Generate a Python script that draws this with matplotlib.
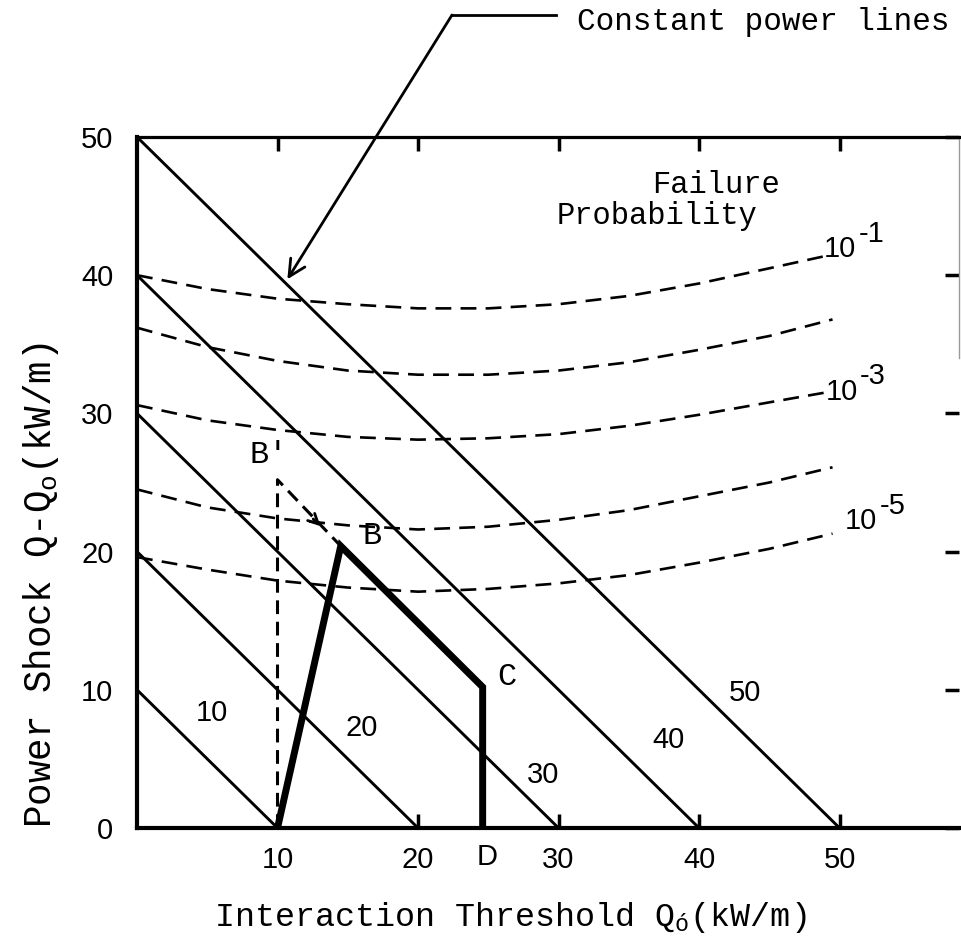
import matplotlib
matplotlib.use("Agg")
import matplotlib.pyplot as plt
from matplotlib.lines import Line2D

# constant power lines: (Q - Qo) + Qo = P
power_levels = [10, 20, 30, 40, 50]
power_label_x = [5.3, 16.0, 28.9, 37.8, 43.3]
power_label_y = [8.3, 7.2, 3.8, 6.4, 9.8]

# failure probability curves
fp_x = [0, 5, 10, 15, 20, 25, 30, 35, 40, 45, 49.5]
fp_1e1 = [40.0, 39.0, 38.3, 37.9, 37.6, 37.6, 37.9, 38.5, 39.4, 40.5, 41.5]
fp_1e2 = [36.2, 34.8, 33.8, 33.1, 32.8, 32.8, 33.1, 33.7, 34.6, 35.6, 36.8]
fp_1e3 = [30.6, 29.5, 28.8, 28.3, 28.1, 28.2, 28.5, 29.1, 29.9, 30.8, 31.6]
fp_1e4 = [24.5, 23.2, 22.4, 21.9, 21.6, 21.8, 22.3, 23.0, 24.0, 25.0, 26.1]
fp_1e5 = [19.6, 18.7, 17.9, 17.4, 17.1, 17.3, 17.7, 18.3, 19.2, 20.2, 21.3]
fp_curves = [fp_1e1, fp_1e2, fp_1e3, fp_1e4, fp_1e5]
fp_exps = ["-1", None, "-3", None, "-5"]

# operating path A-B-C-D and the alternative via B'
path_x = [10, 14.5, 24.6, 24.6]
path_y = [0, 20.4, 10.2, 0]
alt_x = [10, 10, 14.5]
alt_y = [0, 25.2, 20.4]

x_ticks = [10, 20, 30, 40, 50]
y_ticks = [0, 10, 20, 30, 40, 50]

mono = "Liberation Mono"
sans = "Liberation Sans"

plt.rcParams["mathtext.fontset"] = "custom"
plt.rcParams["mathtext.rm"] = mono
plt.rcParams["mathtext.it"] = mono

fig = plt.figure(figsize=(9.61, 9.47), dpi=100)
ax = fig.add_axes([137 / 961, 1 - 828 / 947, 822 / 961, 691 / 947])
ax.set_xlim(0, 58.5)
ax.set_ylim(0, 50)

for p, lx, ly in zip(power_levels, power_label_x, power_label_y):
    ax.plot([0, p], [p, 0], color="black", lw=2.1, solid_capstyle="butt")
    ax.text(lx, ly, str(p), fontsize=21, family=sans, ha="center", va="center")

for vals in fp_curves:
    ax.plot(fp_x, vals, color="black", lw=1.9, dashes=(6, 3.5))

# labels of probability curves
lab_pos = {"-1": (48.9, 41.3), "-3": (49.0, 31.0), "-5": (50.4, 21.6)}
for e in fp_exps:
    if e is None:
        continue
    x0, y0 = lab_pos[e]
    ax.text(x0, y0, "10", fontsize=21, family=sans, ha="left", va="baseline")
    ax.text(x0 + 2.45, y0 + 1.1, e, fontsize=21, family=sans, ha="left", va="baseline")

ax.plot(path_x, path_y, color="black", lw=5, solid_joinstyle="miter")
ax.plot(alt_x, alt_y, color="black", lw=2.2, dashes=(4.5, 2.5))
ax.annotate("", xy=(13.2, 21.7), xytext=(12.4, 22.5),
            arrowprops=dict(arrowstyle="->", lw=2, color="black", mutation_scale=18))

ax.text(8.0, 27.0, "B'", fontsize=23, family=mono, ha="left", va="center")
ax.text(16.7, 21.1, "B", fontsize=23, family=mono, ha="center", va="center")
ax.text(26.35, 10.9, "C", fontsize=23, family=mono, ha="center", va="center")
ax.text(24.9, -0.042, "D", fontsize=21, family=sans, ha="center", va="center",
        transform=ax.get_xaxis_transform())

ax.text(41.2, 46.5, "Failure", fontsize=22, family=mono, ha="center", va="center")
ax.text(37.0, 44.3, "Probability", fontsize=22, family=mono, ha="center", va="center")

# axes styling
ax.set_xticks(x_ticks)
ax.set_yticks(y_ticks)
ax.tick_params(axis="x", direction="in", length=10, width=2.5, top=True,
               labelsize=21, pad=13)
ax.tick_params(axis="y", direction="in", length=10, width=2.5, left=False,
               right=True, labelsize=21, pad=17)
for lab in ax.get_xticklabels() + ax.get_yticklabels():
    lab.set_family(sans)
ax.spines["left"].set_linewidth(3)
ax.spines["bottom"].set_linewidth(3)
ax.spines["top"].set_linewidth(2.3)
ax.spines["right"].set_linewidth(1)
ax.spines["right"].set_color("0.6")
ax.spines["right"].set_bounds(34, 50)

ax.set_xlabel("Interaction Threshold Q$_{\\mathrm{ó}}$(kW/m)", fontsize=24, family=mono)
ax.set_ylabel("Power Shock Q-Q$_{\\mathrm{o}}$(kW/m)", fontsize=27, family=mono)
ax.xaxis.set_label_coords(0.454, -0.104)
ax.yaxis.set_label_coords(-0.093, 0.352)

# leader line for the constant power lines
fig.text(577 / 961, 1 - 22 / 947, "Constant power lines", fontsize=22.3, family=mono,
         ha="left", va="center")
fig.add_artist(Line2D([452 / 961, 556 / 961], [1 - 15 / 947, 1 - 15 / 947],
                      transform=fig.transFigure, color="black", lw=2))
ax.annotate("", xy=(10.7, 39.7), xycoords="data",
            xytext=(452 / 961, 1 - 15 / 947), textcoords="figure fraction",
            arrowprops=dict(arrowstyle="->", lw=2, color="black", mutation_scale=30,
                            shrinkA=0, shrinkB=0),
            annotation_clip=False)

fig.savefig("out.png", dpi=100)
